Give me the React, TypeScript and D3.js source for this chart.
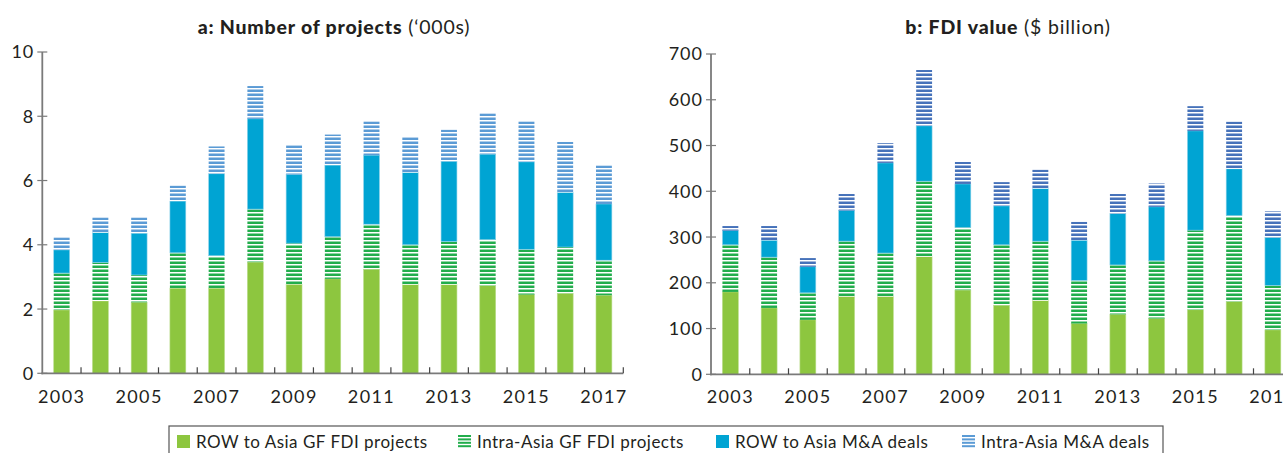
import React from "react";
import * as d3 from "d3";

const years = ["2003","2004","2005","2006","2007","2008","2009","2010","2011","2012","2013","2014","2015","2016","2017"];
const yearLabels = ["2003","2005","2007","2009","2011","2013","2015","2017"];

// Panel a: number of projects ('000s)
const aRowGF = [1.97, 2.25, 2.21, 2.65, 2.65, 3.46, 2.77, 2.94, 3.24, 2.76, 2.76, 2.73, 2.45, 2.49, 2.43];
const aIntraGF = [1.15, 1.20, 0.85, 1.10, 1.01, 1.65, 1.28, 1.31, 1.40, 1.24, 1.34, 1.43, 1.41, 1.44, 1.09];
const aRowMA = [0.72, 0.93, 1.30, 1.61, 2.55, 2.81, 2.14, 2.23, 2.15, 2.25, 2.50, 2.66, 2.72, 1.70, 1.75];
const aIntraMA = [0.39, 0.47, 0.49, 0.48, 0.85, 1.02, 0.91, 0.95, 1.05, 1.10, 0.98, 1.27, 1.26, 1.57, 1.20];
const aTicks = [0, 2, 4, 6, 8, 10];

// Panel b: FDI value ($ billion)
const bRowGF = [180, 145, 119, 170, 170, 257, 184, 151, 161, 111, 131, 122, 141, 159, 97];
const bIntraGF = [103, 111, 59, 121, 95, 165, 137, 132, 130, 94, 108, 126, 174, 188, 97];
const bRowMA = [31, 37, 57, 67, 197, 121, 95, 85, 115, 88, 112, 118, 217, 102, 105];
const bIntraMA = [10, 31, 19, 36, 43, 122, 48, 52, 41, 40, 43, 51, 54, 103, 57];
const bTicks = [0, 100, 200, 300, 400, 500, 600, 700];

const legendItems = [
  { label: "ROW to Asia GF FDI projects", fill: "#8DC63F", striped: false },
  { label: "Intra-Asia GF FDI projects", fill: "#22AD4C", striped: true },
  { label: "ROW to Asia M&A deals", fill: "#00A4D3", striped: false },
  { label: "Intra-Asia M&A deals", fill: "#5B9BD5", striped: true },
];

const FONT = "Lato, 'Open Sans', sans-serif";
const TEXT = "#231F20";
const AXIS = "#7a7a7a";

type PanelProps = {
  id: string;
  title: string;
  subtitle: string;
  titleX: number;
  x0: number;
  x1: number;
  yBottom: number;
  yTop: number;
  max: number;
  ticks: number[];
  series: number[][];
  maStripe: string;
};

function Panel(p: PanelProps) {
  const keys = ["rowGF", "intraGF", "rowMA", "intraMA"];
  const rows = years.map((y, i) => ({
    year: y,
    rowGF: p.series[0][i],
    intraGF: p.series[1][i],
    rowMA: p.series[2][i],
    intraMA: p.series[3][i],
  }));
  const stack = d3.stack<any>().keys(keys)(rows);
  const x = d3.scaleBand<string>().domain(years).range([p.x0, p.x1]).paddingInner(0.59).paddingOuter(0.295);
  const y = d3.scaleLinear().domain([0, p.max]).range([p.yBottom, p.yTop]);
  const fills = ["#8DC63F", `url(#${p.id}-g)`, "#00A4D3", `url(#${p.id}-b)`];
  const strokes = ["#b9dd8a", "none", "#8fd3ea", "none"];
  const step = x.step();
  return (
    <g>
      <defs>
        <pattern id={`${p.id}-g`} patternUnits="userSpaceOnUse" width="8" height="4">
          <rect x="0" y="0" width="8" height="4" fill="#ffffff" />
          <rect x="0" y="1.5" width="8" height="2.5" fill="#22AD4C" />
        </pattern>
        <pattern id={`${p.id}-b`} patternUnits="userSpaceOnUse" width="8" height="4">
          <rect x="0" y="0" width="8" height="4" fill="#ffffff" />
          <rect x="0" y="1.5" width="8" height="2.5" fill={p.maStripe} />
        </pattern>
      </defs>
      <text x={p.titleX} y={34} textAnchor="middle" fontFamily={FONT} fontSize={19.5} letterSpacing={0.8} fill={TEXT}>
        <tspan fontWeight={900}>{p.title}</tspan>
        <tspan fontWeight={400}>{" " + p.subtitle}</tspan>
      </text>
      {stack.map((layer, li) =>
        layer.map((d: any, i: number) => {
          const top = y(d[1]);
          const bot = y(d[0]);
          return (
            <rect
              key={`${li}-${i}`}
              x={x(years[i])!}
              y={top}
              width={x.bandwidth()}
              height={Math.max(0, bot - top)}
              fill={fills[li]}
              stroke={strokes[li]}
              strokeWidth={0.6}
            />
          );
        })
      )}
      {/* axes */}
      <line x1={p.x0} x2={p.x0} y1={p.yTop} y2={p.yBottom + 1} stroke={AXIS} strokeWidth={1.8} />
      <line x1={p.x0 - 1} x2={p.x1} y1={p.yBottom} y2={p.yBottom} stroke={AXIS} strokeWidth={1.8} />
      {p.ticks.map((t) => (
        <g key={t}>
          <line x1={p.x0 - 5} x2={p.x0 + 5} y1={y(t)} y2={y(t)} stroke={AXIS} strokeWidth={1.2} />
          <text x={p.x0 - 8} y={y(t)} dy="0.36em" textAnchor="end" fontFamily={FONT} fontSize={18} letterSpacing={1} fill={TEXT}>
            {t}
          </text>
        </g>
      ))}
      {years.map((yr, i) =>
        i === 0 ? null : (
          <line key={yr} x1={p.x0 + step * i} x2={p.x0 + step * i} y1={p.yBottom} y2={p.yBottom - 6} stroke="#444" strokeWidth={1.2} />
        )
      )}
      <line x1={p.x0 + step * 15} x2={p.x0 + step * 15} y1={p.yBottom} y2={p.yBottom - 6} stroke="#444" strokeWidth={1.2} />
      {yearLabels.map((yr) => (
        <text key={yr} x={x(yr)! + x.bandwidth() / 2} y={403} textAnchor="middle" fontFamily={FONT} fontSize={18} letterSpacing={1.4} fill={TEXT}>
          {yr}
        </text>
      ))}
    </g>
  );
}

function Legend() {
  const positions = [177, 458, 716, 962];
  return (
    <g>
      <rect x={169} y={426} width={994} height={40} fill="none" stroke="#555" strokeWidth={1.2} />
      {legendItems.map((it, i) => (
        <g key={it.label}>
          {it.striped ? (
            [0, 1, 2, 3].map((k) => (
              <rect key={k} x={positions[i]} y={435 + k * 3.4} width={13} height={2} fill={it.fill} />
            ))
          ) : (
            <rect x={positions[i]} y={435} width={13} height={13} fill={it.fill} />
          )}
          <text x={positions[i] + 19} y={447.5} fontFamily={FONT} fontSize={17} letterSpacing={0.5} fill={TEXT}>
            {it.label}
          </text>
        </g>
      ))}
    </g>
  );
}

export default function App() {
  return (
    <svg width={1283} height={453} style={{ position: "absolute", left: 0, top: 0, background: "#fff" }}>
      <rect width={1283} height={453} fill="#fff" />
      <Panel
        id="pa"
        title="a: Number of projects"
        subtitle="(‘000s)"
        titleX={334}
        x0={42.3}
        x1={623.3}
        yBottom={373.3}
        yTop={52}
        max={10}
        ticks={aTicks}
        series={[aRowGF, aIntraGF, aRowMA, aIntraMA]}
        maStripe="#5B9BD5"
      />
      <Panel
        id="pb"
        title="b: FDI value"
        subtitle="($ billion)"
        titleX={1008}
        x0={711}
        x1={711 + 38.75 * 15}
        yBottom={374.3}
        yTop={54}
        max={700}
        ticks={bTicks}
        series={[bRowGF, bIntraGF, bRowMA, bIntraMA]}
        maStripe="#4672BA"
      />
      <Legend />
    </svg>
  );
}
